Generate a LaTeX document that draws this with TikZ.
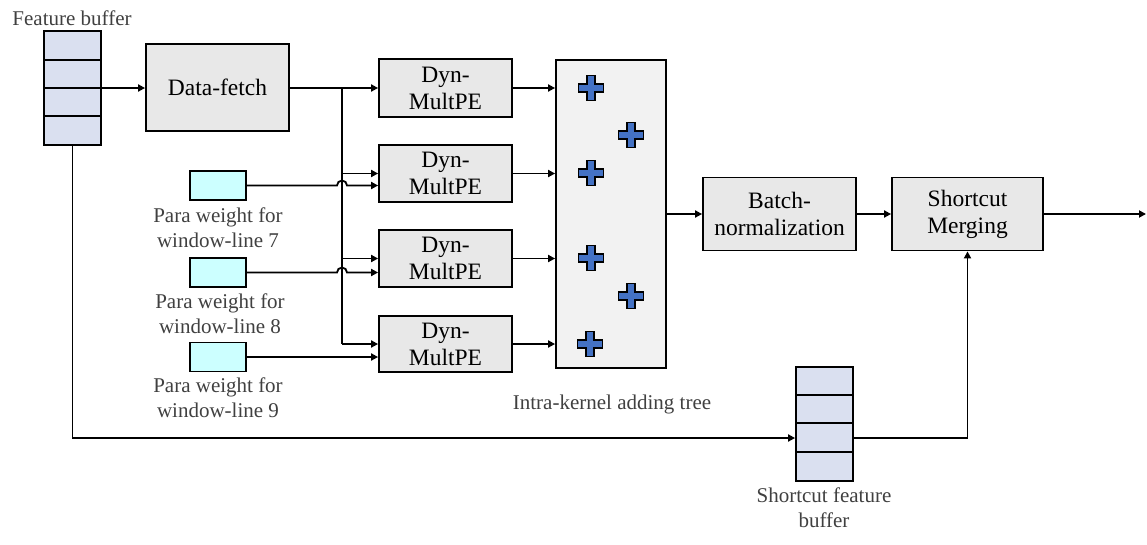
\documentclass[tikz,border=0pt]{standalone}
\usepackage{fontspec}
\setmainfont{Liberation Serif}
\usetikzlibrary{arrows.meta}
\definecolor{boxgray}{HTML}{E8E8E8}
\definecolor{addgray}{HTML}{F2F2F2}
\definecolor{bufblue}{HTML}{DAE0F0}
\definecolor{wcyan}{HTML}{CCFFFF}
\definecolor{plusblue}{HTML}{4472C4}
\definecolor{labgray}{HTML}{404040}
\tikzset{
  blk/.style={draw, line width=1.8pt, fill=boxgray, inner sep=0pt, align=center,
    font=\fontsize{23.5}{27}\selectfont},
  bufbox/.style={draw, line width=1.8pt, fill=bufblue, inner sep=0pt, minimum width=57pt, minimum height=114pt},
  wbox/.style={draw, line width=1.8pt, fill=wcyan, inner sep=0pt, minimum width=56pt, minimum height=29pt},
  lab/.style={align=center, text=labgray, inner sep=0pt, font=\fontsize{21}{25}\selectfont},
  arr/.style={line width=1.8pt, -{Triangle[length=7pt,width=7pt]}},
  ln/.style={line width=1.8pt},
  addsign/.pic={\draw[line width=1.8pt, fill=plusblue, line join=miter]
    (-12.5,-4.2) -- (-4.2,-4.2) -- (-4.2,-12.5) -- (4.2,-12.5) -- (4.2,-4.2) -- (12.5,-4.2) -- (12.5,4.2) -- (4.2,4.2)
    -- (4.2,12.5) -- (-4.2,12.5) -- (-4.2,4.2) -- (-12.5,4.2) -- cycle;}
}
\begin{document}
\begin{tikzpicture}[x=1pt,y=-1pt]
\useasboundingbox (0,0) rectangle (1147,544);
% feature buffer
\node[bufbox] (fb) at (72.5,88) {};
\draw[ln] (44,60) -- (101,60) (44,88) -- (101,88) (44,116) -- (101,116);
\node[lab] (fbl) at (72,18) {Feature buffer};
% data fetch
\node[blk, minimum width=143pt, minimum height=87pt] (df) at (217.5,87.5) {Data-fetch};
% Dyn-MultPE
\node[blk, minimum width=133pt, minimum height=58pt] (d1) at (445.5,88) {Dyn-\\MultPE};
\node[blk, minimum width=133pt, minimum height=57pt] (d2) at (445.5,173.5) {Dyn-\\MultPE};
\node[blk, minimum width=133pt, minimum height=57pt] (d3) at (445.5,258.5) {Dyn-\\MultPE};
\node[blk, minimum width=133pt, minimum height=56pt] (d4) at (445.5,344) {Dyn-\\MultPE};
% weights
\node[wbox] (w1) at (218,185.5) {};
\node[wbox] (w2) at (218,272.5) {};
\node[wbox] (w3) at (218,357) {};
\node[lab] (w1l) at (218,227.5) {Para weight for\\window-line 7};
\node[lab] (w2l) at (220,314) {Para weight for\\window-line 8};
\node[lab] (w3l) at (218,398) {Para weight for\\window-line 9};
% adder tree
\node[draw, line width=1.8pt, fill=addgray, minimum width=110pt, minimum height=308pt, inner sep=0pt] (add) at (611,214) {};
\node[lab] (addl) at (612,404) {Intra-kernel adding tree};
\pic at (591,88) {addsign};
\pic at (631,135) {addsign};
\pic at (591,173) {addsign};
\pic at (591,258) {addsign};
\pic at (631,296) {addsign};
\pic at (590,344) {addsign};
% batch norm, merging
\node[blk, minimum width=153pt, minimum height=73pt] (bn) at (779.5,214) {Batch-\\normalization};
\node[blk, minimum width=151pt, minimum height=73pt] (sm) at (967.5,214) {Shortcut\\Merging};
\coordinate (out) at (1146,214);
% shortcut buffer
\node[bufbox] (sb) at (824.5,424) {};
\draw[ln] (796,395) -- (853,395) (796,423) -- (853,423) (796,452) -- (853,452);
\node[lab] (sbl) at (824,508) {Shortcut feature\\buffer};
% connectors
\draw[arr] (fb.east) -- (df.west |- fb.east);
\coordinate (j) at (342,88);
\draw[arr] (df.east |- j) -- (d1.west);
\draw[ln] (j) -- (j |- d4.west);
\draw[arr] (j |- d2.west) -- (d2.west);
\draw[arr] (j |- d3.west) -- (d3.west);
\draw[arr] (j |- d4.west) -- (d4.west);
\draw[arr] (w1.east) -- ([xshift=-5pt]j |- w1.east) arc[start angle=180, end angle=0, radius=5pt] -- (w1.east -| d2.west);
\draw[arr] (w2.east) -- ([xshift=-5pt]j |- w2.east) arc[start angle=180, end angle=0, radius=5pt] -- (w2.east -| d3.west);
\draw[arr] (w3.east) -- (w3.east -| d4.west);
\draw[arr] (d1.east) -- (d1.east -| add.west);
\draw[arr] (d2.east) -- (d2.east -| add.west);
\draw[arr] (d3.east) -- (d3.east -| add.west);
\draw[arr] (d4.east) -- (d4.east -| add.west);
\draw[arr] (add.east) -- (bn.west);
\draw[arr] (bn.east) -- (sm.west);
\draw[arr] (sm.east) -- (out);
\draw[arr] (fb.south) -- (fb.south |- 0,438) -- (sb.west |- 0,438);
\draw[arr] (sb.east |- 0,438) -- (sm.south |- 0,438) -- (sm.south);
\end{tikzpicture}
\end{document}
